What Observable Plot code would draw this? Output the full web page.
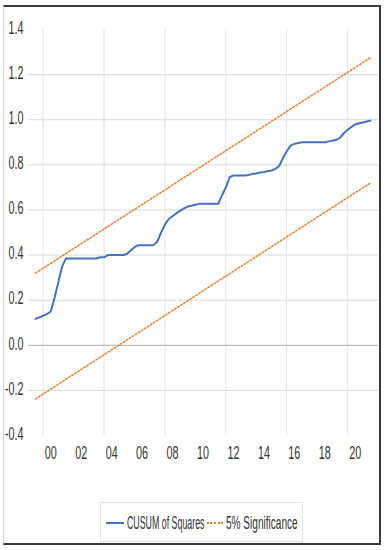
<!DOCTYPE html>
<html><head><meta charset="utf-8">
<script src="https://cdn.jsdelivr.net/npm/d3@7"></script>
<script src="https://cdn.jsdelivr.net/npm/@observablehq/plot@0.6"></script>
<style>
body{margin:0;background:#fff;}
#wrap{position:relative;width:386px;height:550px;overflow:hidden;font-family:"Liberation Sans",Arial,sans-serif;background:#fff;}
#chart{position:absolute;left:0;top:0;}
#frame{position:absolute;left:3px;top:5px;width:378px;height:540px;box-sizing:border-box;border-top:2px solid #3a3a3a;border-right:2px solid #3a3a3a;border-bottom:2px solid #3a3a3a;border-left:1px solid #d4d4d4;pointer-events:none;}
#legendBox{position:absolute;left:100px;top:502px;width:203px;height:40px;box-sizing:border-box;border:1px solid #e2e2e2;}
.sw{position:absolute;}
.lt{position:absolute;font-size:18px;line-height:18px;color:#333;white-space:nowrap;transform-origin:0 50%;}
</style>
</head><body>
<div id="wrap">
  <div id="chart"></div>
  <div id="legendBox"></div>
  <div class="sw" style="left:106px;top:521.5px;width:18px;height:2.5px;background:#4472C4;"></div>
  <div class="lt" id="lt0" style="left:127px;top:513.5px;transform:scaleX(0.49);"></div>
  <div class="sw" style="left:207px;top:522px;width:16px;height:0;border-top:2px dotted #ED7D31;"></div>
  <div class="lt" id="lt1" style="left:226px;top:513.5px;transform:scaleX(0.56);"></div>
  <div id="frame"></div>
</div>
<script>
// ---- data ----
const startYear = 1999;           // first quarter of the sample (1999Q1)
const cusumSq = [
  0.117,0.124,0.131,0.138,0.150,0.210,0.280,0.350,0.385,0.385,
  0.385,0.385,0.385,0.385,0.385,0.385,0.385,0.390,0.390,0.400,
  0.400,0.400,0.400,0.400,0.405,0.420,0.435,0.444,0.444,0.444,
  0.444,0.444,0.460,0.500,0.535,0.560,0.572,0.585,0.597,0.607,
  0.615,0.619,0.623,0.627,0.627,0.627,0.627,0.627,0.627,0.665,
  0.700,0.745,0.753,0.753,0.753,0.753,0.755,0.760,0.762,0.766,
  0.768,0.772,0.775,0.782,0.795,0.830,0.860,0.885,0.893,0.897,
  0.900,0.900,0.900,0.900,0.900,0.900,0.900,0.904,0.907,0.911,
  0.920,0.940,0.955,0.968,0.979,0.984,0.988,0.992,0.996
];
const boundYears = [1999, 2021];
const upperBound = [0.320, 1.275];
const lowerBound = [-0.238, 0.720];
const xTicks = [2000,2002,2004,2006,2008,2010,2012,2014,2016,2018,2020];
const xTickLabels = ["00","02","04","06","08","10","12","14","16","18","20"];
const yTicks = [-0.4,-0.2,0.0,0.2,0.4,0.6,0.8,1.0,1.2,1.4];
const yGrid = [-0.2,0.2,0.4,0.6,0.8,1.0,1.2];
const xGrid = [1999.5,2003.5,2007.5,2011.5,2015.5,2019.5];
const seriesNames = ["CUSUM of Squares","5% Significance"];
const colors = ["#4472C4","#ED7D31"];

// ---- tables ----
const cusumRows = cusumSq.map((v,i)=>({t: startYear + i/4, v}));
const upperRows = boundYears.map((t,i)=>({t, v: upperBound[i]}));
const lowerRows = boundYears.map((t,i)=>({t, v: lowerBound[i]}));
const xLab = xTicks.map((t,i)=>({t, s: xTickLabels[i]}));

const chart = Plot.plot({
  width: 386, height: 500,
  marginLeft: 28, marginRight: 8, marginTop: 29, marginBottom: 65,
  style: {fontFamily: '"Liberation Sans", Arial, sans-serif', fontSize: "18px", background: "transparent", overflow: "visible"},
  x: {type: "linear", domain: [1998.54, 2021.526], axis: null},
  y: {domain: [-0.4, 1.4], axis: null},
  marks: [
    Plot.ruleY(yGrid, {stroke: "#d9d9d9", strokeWidth: 1}),
    Plot.ruleX(xGrid, {stroke: "#e3e3e3", strokeWidth: 1}),
    Plot.ruleY([0], {stroke: "#bfbfbf", strokeWidth: 1.3}),
    Plot.line(upperRows, {x: "t", y: "v", stroke: colors[1], strokeWidth: 1.5, strokeDasharray: "1.6,2"}),
    Plot.line(lowerRows, {x: "t", y: "v", stroke: colors[1], strokeWidth: 1.5, strokeDasharray: "1.6,2"}),
    Plot.line(cusumRows, {x: "t", y: "v", stroke: colors[0], strokeWidth: 2}),
    Plot.text(yTicks, {y: d=>d, text: d=>d.toFixed(1), frameAnchor: "left", textAnchor: "end", dx: -5, dy: -1.5, fill: "#333", fontSize: 18}),
    Plot.text(xLab, {x: "t", text: "s", frameAnchor: "bottom", dy: 23, fill: "#333", fontSize: 18})
  ]
});
document.getElementById("chart").appendChild(chart);
document.getElementById("lt0").textContent = seriesNames[0];
document.getElementById("lt1").textContent = seriesNames[1];

// squeeze the axis labels horizontally (narrow condensed look of the original)
const svgNS = "http://www.w3.org/2000/svg";
chart.querySelectorAll("text").forEach(el=>{
  const tl = el.transform && el.transform.baseVal;
  const m = tl && tl.numberOfItems ? tl.consolidate().matrix : null;
  const tx = m ? m.e : 0;
  const xa = el.x && el.x.baseVal && el.x.baseVal.numberOfItems ? el.x.baseVal.getItem(0).value : 0;
  const dxa = el.dx && el.dx.baseVal && el.dx.baseVal.numberOfItems ? el.dx.baseVal.getItem(0).value : 0;
  const ax = tx + xa + dxa;
  const g = document.createElementNS(svgNS, "g");
  g.setAttribute("transform", `translate(${ax},0) scale(0.6,1) translate(${-ax},0)`);
  el.parentNode.insertBefore(g, el);
  g.appendChild(el);
});
</script>
</body></html>
